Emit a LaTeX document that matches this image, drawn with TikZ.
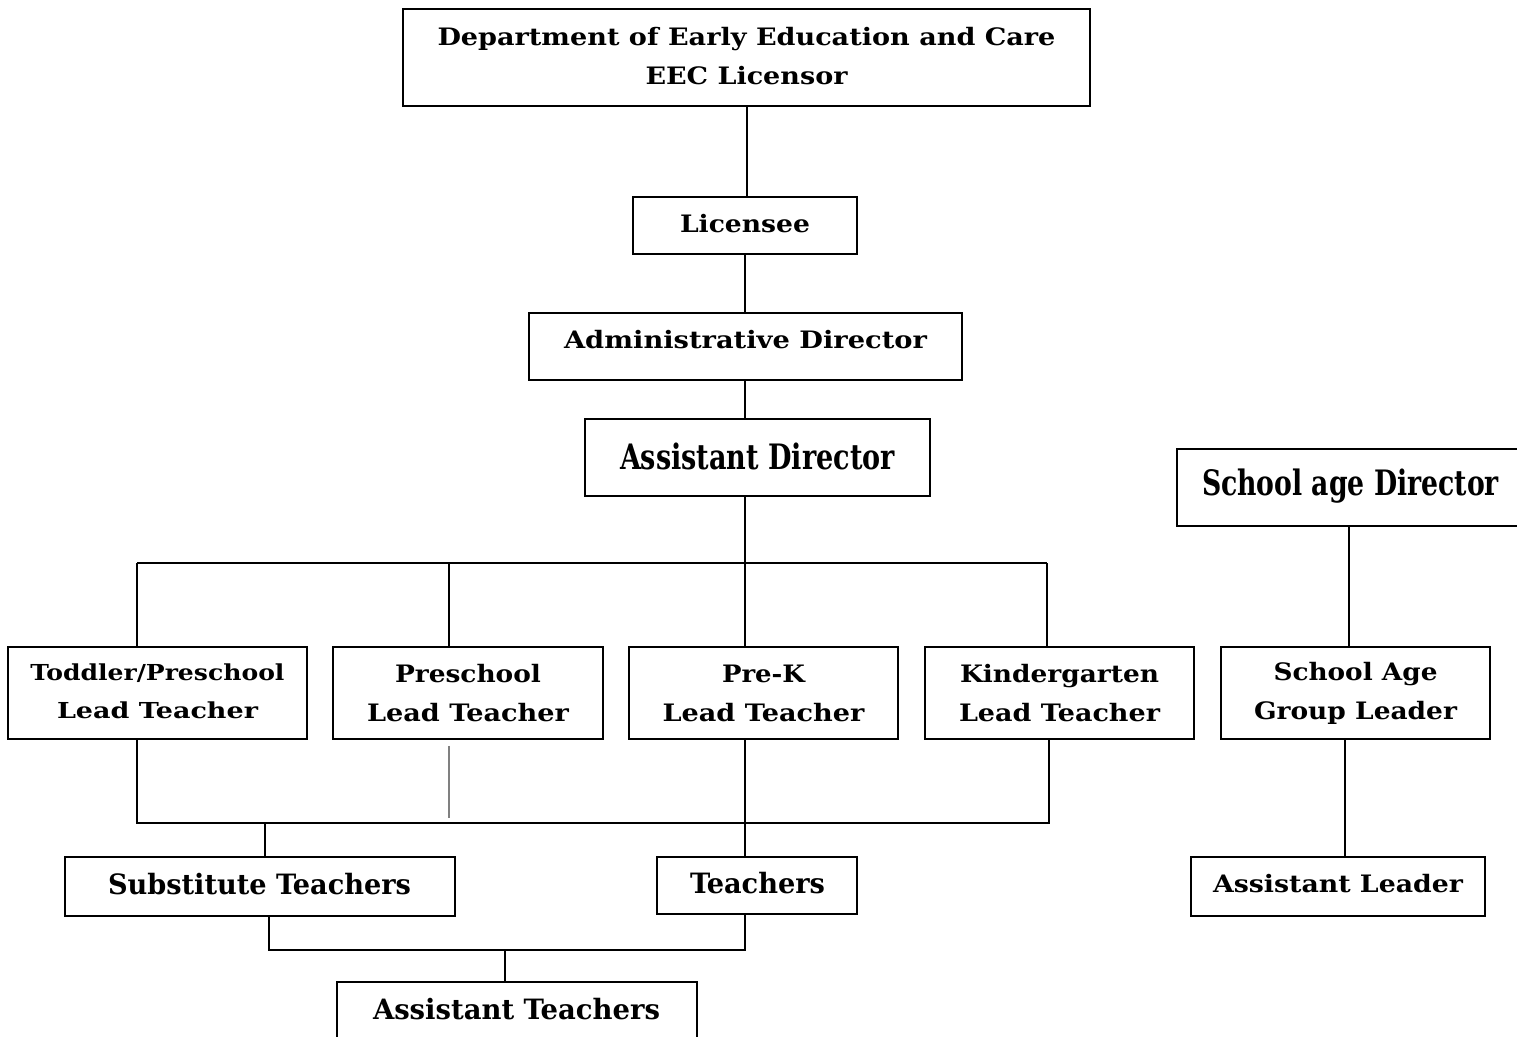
\documentclass[tikz,border=0pt]{standalone}
\usepackage{fontspec}
\usepackage{graphicx}
\setmainfont{DejaVu Serif}
\newfontfamily\condfont{DejaVu Serif Condensed}
\newcommand\fitto[2]{\setbox0\hbox{#2}\dimen0=\wd0\pgfmathsetmacro\rat{#1/\the\dimen0}\scalebox{\rat}[1]{\box0}}
\tikzset{
  orgbox/.style={draw, line width=1.8pt, inner sep=0pt, align=center, fill=white},
  reg/.style={font=\bfseries\fontsize{24}{39}\selectfont},
  cond/.style={font=\condfont\bfseries\fontsize{28}{30}\selectfont},
  big/.style={font=\condfont\bfseries\fontsize{35}{38}\selectfont},
  link/.style={line width=1.6pt},
}
\begin{document}
\begin{tikzpicture}[x=1pt,y=-1pt]
\useasboundingbox (0,0) rectangle (1517,1036);
% boxes
\node[orgbox,minimum width=687pt,minimum height=97pt] (eec) at (746.5,57.5) {};
\node[reg,align=center] at (746.5,56)
  {\fitto{618pt}{Department of Early Education and Care}\\\fitto{202pt}{EEC Licensor}};
\node[orgbox,minimum width=224pt,minimum height=57pt] (lic) at (745,225.5) {};
\node[reg] at (745,224) {\fitto{130pt}{Licensee}};
\node[orgbox,minimum width=433pt,minimum height=67pt] (adm) at (745.5,346.5) {};
\node[reg] at (745.5,340) {\fitto{363pt}{Administrative Director}};
\node[orgbox,minimum width=345pt,minimum height=77pt] (asd) at (757.5,457.5) {};
\node[big] at (757.5,456) {\fitto{275pt}{Assistant Director}};
\node[orgbox,minimum width=360pt,minimum height=77pt] (sad) at (1357,487.5) {};
\node[big] at (1350.5,486) {\fitto{297pt}{School age Director}};
\node[orgbox,minimum width=299pt,minimum height=92pt] (tp) at (157.5,693) {};
\node[font=\bfseries\fontsize{22}{38}\selectfont,align=center] at (157.5,691)
  {\fitto{254pt}{Toddler/Preschool}\\\fitto{201pt}{Lead Teacher}};
\node[orgbox,reg,minimum width=270pt,minimum height=92pt] (ps) at (468,693)
  {\fitto{146pt}{Preschool}\\\fitto{202pt}{Lead Teacher}};
\node[orgbox,reg,minimum width=269pt,minimum height=92pt] (pk) at (763.5,693)
  {\fitto{83pt}{Pre-K}\\\fitto{202pt}{Lead Teacher}};
\node[orgbox,reg,minimum width=269pt,minimum height=92pt] (kg) at (1059.5,693)
  {\fitto{199pt}{Kindergarten}\\\fitto{201pt}{Lead Teacher}};
\node[orgbox,reg,minimum width=269pt,minimum height=92pt] (sag) at (1355.5,693)
  {\fitto{164pt}{School Age}\\\fitto{203pt}{Group Leader}};
\node[orgbox,minimum width=390pt,minimum height=59pt] (sub) at (260,886.5) {};
\node[cond] at (259.5,884) {\fitto{303pt}{Substitute Teachers}};
\node[orgbox,minimum width=200pt,minimum height=57pt] (tea) at (757,885.5) {};
\node[cond] at (757.5,883) {\fitto{135pt}{Teachers}};
\node[orgbox,minimum width=294pt,minimum height=59pt] (al) at (1338,886.5) {};
\node[reg] at (1338,884) {\fitto{250pt}{Assistant Leader}};
\node[orgbox,minimum width=360pt,minimum height=80pt] (at) at (517,1022) {};
\node[cond] at (516.5,1009) {\fitto{287pt}{Assistant Teachers}};
% coordinates
\coordinate (b1l) at (137,563);
\coordinate (b1r) at (1047,563);
\coordinate (b2l) at (137,823);
\coordinate (b2r) at (1049,823);
\coordinate (b3l) at (269,950);
\coordinate (b3r) at (745,950);
% connectors
\draw[link] (eec.south -| 747,0) -- (lic.north -| 747,0);
\draw[link] (lic.south) -- (adm.north -| lic.south);
\draw[link] (adm.south -| 745,0) -- (asd.north -| 745,0);
\draw[link] (asd.south -| 745,0) -- (pk.north -| 745,0);
\draw[link] (b1l) -- (b1r);
\draw[link] (b1l) -- (tp.north -| b1l);
\draw[link] (449,563) -- (ps.north -| 449,0);
\draw[link] (b1r) -- (kg.north -| b1r);
\draw[link] (sad.south -| 1349,0) -- (sag.north -| 1349,0);
\draw[link] (sag.south -| 1345,0) -- (al.north -| 1345,0);
\draw[link] (tp.south -| b2l) -- (b2l) -- (b2r) -- (kg.south -| b2r);
\draw[line width=1.2pt, gray] (ps.south -| 449,0) ++(0,6) -- (449,818);
\draw[link] (pk.south -| 745,0) -- (tea.north -| 745,0);
\draw[link] (265,823) -- (sub.north -| 265,0);
\draw[link] (sub.south -| b3l) -- (b3l) -- (b3r) -- (tea.south -| b3r);
\draw[link] (505,950) -- (at.north -| 505,0);
\end{tikzpicture}
\end{document}
